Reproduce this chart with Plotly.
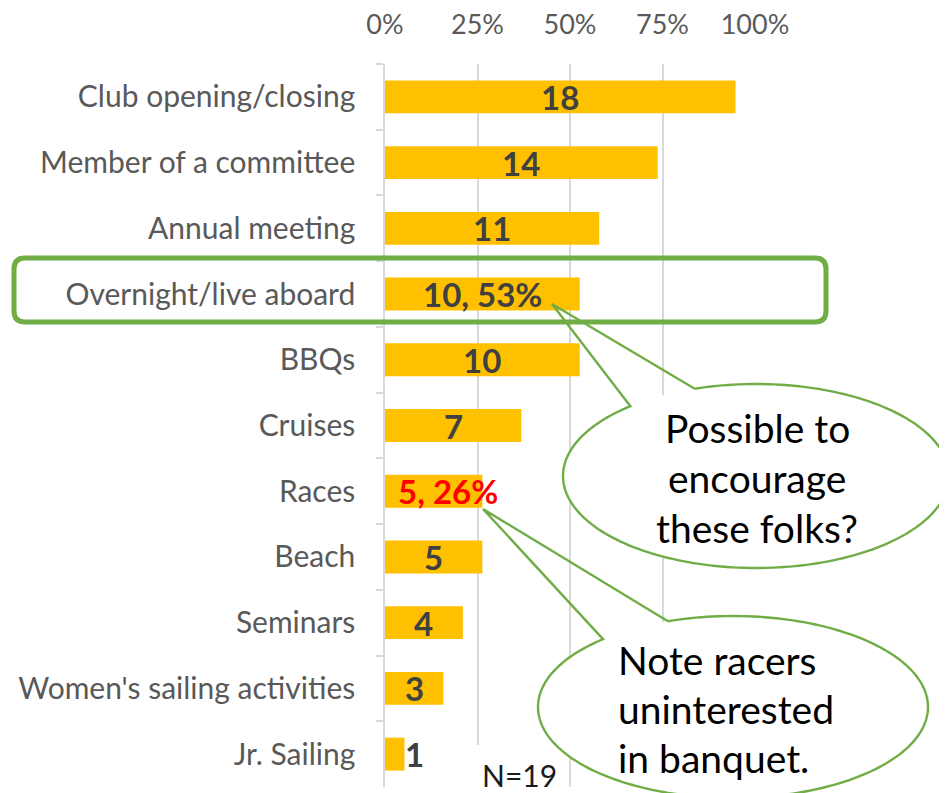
import numpy as np
import plotly.graph_objects as go

# ---------------- data ----------------
categories = ["Club opening/closing", "Member of a committee", "Annual meeting",
              "Overnight/live aboard", "BBQs", "Cruises", "Races", "Beach",
              "Seminars", "Women's sailing activities", "Jr. Sailing"]
counts = [18, 14, 11, 10, 10, 7, 5, 5, 4, 3, 1]
N = 19
bar_labels = ["18", "14", "11", "10, 53%", "10", "7", "5, 26%", "5", "4", "3", "1"]
x_tick_vals = [0, 0.25, 0.5, 0.75, 1.0]
x_tick_text = ["0%", "25%", "50%", "75%", "100%"]
callout1_lines = ["Possible to", "encourage", "these folks?"]
callout2_lines = ["Note racers", "uninterested", "in banquet."]
n_text = "N=19"

shares = [c / N for c in counts]

# ---------------- layout constants (window pixels) ----------------
OFF = 8                      # default body margin of the html page
WIN_W, WIN_H = 947, 793
W, H = WIN_W - OFF, WIN_H - OFF
PLOT_X0, PLOT_X1, PLOT_Y0, PLOT_Y1 = 385, 755, 64, 787
L, R = PLOT_X0 - OFF, W - (PLOT_X1 - OFF)
T, B = PLOT_Y0 - OFF, H - (PLOT_Y1 - OFF)
PW, PH = PLOT_X1 - PLOT_X0, PLOT_Y1 - PLOT_Y0
FONT = "Lato"
GREEN = "#70AD47"
GRID = "#D9D9D9"


def px(X):
    return (X - PLOT_X0) / PW


def py(Y):
    return (PLOT_Y1 - Y) / PH


fig = go.Figure()
fig.add_trace(go.Bar(
    y=categories, x=shares, orientation="h",
    marker=dict(color="#FFC000", line=dict(width=0)),
    hoverinfo="skip", showlegend=False,
))

annotations = []
for cat, s, lab in zip(categories, shares, bar_labels):
    red = lab.startswith("5, ")
    if s < 0.1:
        annotations.append(dict(x=s, y=cat, xref="x", yref="y", text=lab,
                                showarrow=False, xanchor="left", xshift=-1,
                                font=dict(family=FONT, size=33, color="#404040", weight="bold")))
    else:
        annotations.append(dict(x=s / 2, y=cat, xref="x", yref="y", text=lab,
                                showarrow=False, xanchor="center",
                                xshift=14 if red else 0,
                                font=dict(family=FONT, size=33,
                                          color="#FF0000" if red else "#404040",
                                          weight="bold")))

# callout texts
for i, t in enumerate(callout1_lines):
    annotations.append(dict(x=px(757), y=py(428 + 50 * i), xref="paper", yref="paper",
                            text=t, showarrow=False, xanchor="center", yanchor="middle",
                            font=dict(family=FONT, size=39, color="#000000")))
for i, t in enumerate(callout2_lines):
    annotations.append(dict(x=px(616), y=py(660 + 49 * i), xref="paper", yref="paper",
                            text=t, showarrow=False, xanchor="left", yanchor="middle",
                            font=dict(family=FONT, size=39, color="#000000")))
annotations.append(dict(x=px(480), y=py(775), xref="paper", yref="paper", text=n_text,
                        showarrow=False, xanchor="left", yanchor="middle",
                        font=dict(family=FONT, size=30, color="#1A1A1A")))


def path_from(points, close=False):
    s = "M " + " L ".join(f"{px(x):.5f},{py(y):.5f}" for x, y in points)
    return s + (" Z" if close else "")


def ellipse_pts(cx, cy, rx, ry, t0, t1, n=160):
    t = np.radians(np.linspace(t0, t1, n))
    return list(zip(cx + rx * np.cos(t), cy + ry * np.sin(t)))


def callout(cx, cy, rx, ry, a_deg, b_deg, tip):
    full = ellipse_pts(cx, cy, rx, ry, 0, 360, 200)
    fill = dict(type="path", xref="paper", yref="paper", path=path_from(full, True),
                fillcolor="white", line=dict(width=0), layer="above")
    arc = ellipse_pts(cx, cy, rx, ry, b_deg, a_deg + 360, 200)
    outline = dict(type="path", xref="paper", yref="paper",
                   path=path_from(arc + [tip, arc[0]]),
                   line=dict(color=GREEN, width=2.4), layer="above")
    return [fill, outline]


def rounded_rect(x0, y0, x1, y1, r):
    p = (f"M {px(x0 + r)},{py(y0)} L {px(x1 - r)},{py(y0)} "
         f"Q {px(x1)},{py(y0)} {px(x1)},{py(y0 + r)} L {px(x1)},{py(y1 - r)} "
         f"Q {px(x1)},{py(y1)} {px(x1 - r)},{py(y1)} L {px(x0 + r)},{py(y1)} "
         f"Q {px(x0)},{py(y1)} {px(x0)},{py(y1 - r)} L {px(x0)},{py(y0 + r)} "
         f"Q {px(x0)},{py(y0)} {px(x0 + r)},{py(y0)} Z")
    return dict(type="path", xref="paper", yref="paper", path=p,
                line=dict(color=GREEN, width=5), layer="above")


shapes = []
shapes.append(dict(type="rect", xref="paper", yref="paper",
                   x0=px(472), x1=px(566), y0=py(745), y1=py(800),
                   fillcolor="white", line=dict(width=0), layer="above"))
shapes += callout(756, 476, 193, 92, 229.4, 251.5, (552, 304))
shapes += callout(733, 707, 195, 91, 228.2, 250.5, (483, 509))
shapes.append(rounded_rect(14, 258, 826, 322, 11))

fig.update_layout(
    width=W, height=H,
    margin=dict(l=L, r=R, t=T, b=B, pad=0, autoexpand=False),
    paper_bgcolor="white", plot_bgcolor="white",
    bargap=0.5,
    font=dict(family=FONT),
    xaxis=dict(range=[0, 1], side="top", tickvals=x_tick_vals, ticktext=x_tick_text,
               showgrid=True, gridcolor=GRID, gridwidth=1.5, zeroline=False,
               showline=False, ticks="", ticklabelstandoff=24, automargin=False,
               tickfont=dict(family=FONT, size=27, color="#595959"), fixedrange=True),
    yaxis=dict(autorange="reversed", showline=True, linecolor=GRID, linewidth=1.5,
               ticks="outside", tickson="boundaries", ticklen=7, tickcolor=GRID,
               tickwidth=1.5, ticklabelstandoff=22, showgrid=False, automargin=False,
               tickfont=dict(family=FONT, size=30, color="#595959"), fixedrange=True),
    annotations=annotations,
    shapes=shapes,
)

fig.write_html("out.html")
